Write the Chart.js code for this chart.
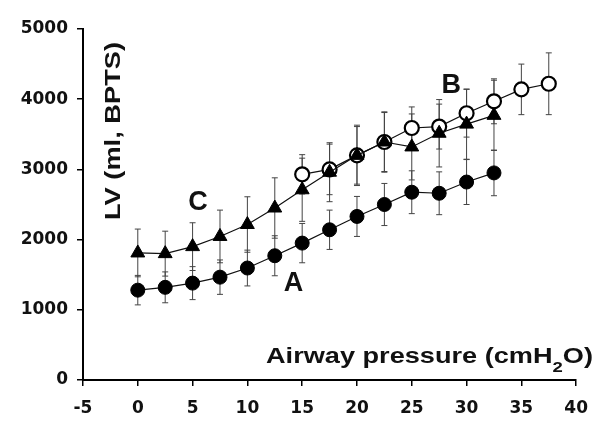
<!DOCTYPE html>
<html>
<head>
<meta charset="utf-8">
<script src="https://cdn.jsdelivr.net/npm/chart.js@4"></script>
<style>
    html, body { margin: 0; padding: 0; background: #fff; }
    #wrap { width: 600px; height: 446px; }
</style>
</head>
<body>
<div id="wrap"><canvas id="lvChart"></canvas></div>
<script>
// Airway pressure (cmH2O)
const pressures = [0, 2.5, 5, 7.5, 10, 12.5, 15, 17.5, 20, 22.5, 25, 27.5, 30, 32.5];
const pressuresB = [15, 17.5, 20, 22.5, 25, 27.5, 30, 32.5, 35, 37.5];

// LV (ml, BPTS) means and SD
const seriesA = [1280, 1320, 1380, 1465, 1595, 1770, 1950, 2140, 2330, 2500, 2675, 2660, 2820, 2950];
const errorA = [210, 220, 235, 245, 255, 285, 280, 280, 285, 300, 305, 305, 320, 325];
const seriesC = [1810, 1800, 1900, 2045, 2215, 2450, 2710, 2960, 3200, 3390, 3320, 3515, 3645, 3770];
const errorC = [340, 320, 340, 375, 395, 430, 450, 420, 410, 430, 470, 480, 500, 500];
const seriesB = [2930, 3000, 3200, 3390, 3590, 3610, 3800, 3970, 4140, 4220];
const errorB = [280, 360, 430, 420, 300, 320, 340, 320, 360, 440];

// curve labels placed in data units
const curveLabels = [
    { text: 'A', x: 14.2, y: 1370 },
    { text: 'B', x: 28.6, y: 4190 },
    { text: 'C', x: 5.5, y: 2530 }
];

const xTicks = [-5, 0, 5, 10, 15, 20, 25, 30, 35, 40];
const yTicks = [0, 1000, 2000, 3000, 4000, 5000];

const FONT = '"DejaVu Sans", "Liberation Sans", sans-serif';
const TITLE_FONT = '"Liberation Sans", Arial, sans-serif';

function toPoints(xs, ys, errs) {
    return xs.map((x, i) => ({ x: x, y: ys[i], err: errs[i] }));
}

// error bars drawn under the markers
const errorBarPlugin = {
    id: 'errorBars',
    beforeDatasetsDraw(chart) {
        const { ctx, scales: { x, y } } = chart;
        ctx.save();
        ctx.strokeStyle = '#444';
        ctx.lineWidth = 1;
        chart.data.datasets.forEach(ds => {
            ds.data.forEach(p => {
                const px = x.getPixelForValue(p.x);
                const top = y.getPixelForValue(p.y + p.err);
                const bot = y.getPixelForValue(p.y - p.err);
                ctx.beginPath();
                ctx.moveTo(px, top); ctx.lineTo(px, bot);
                ctx.moveTo(px - 3, top); ctx.lineTo(px + 3, top);
                ctx.moveTo(px - 3, bot); ctx.lineTo(px + 3, bot);
                ctx.stroke();
            });
        });
        ctx.restore();
    }
};

// draw text stretched to a given width
function fillFitted(ctx, parts, x, y, width) {
    let total = 0;
    parts.forEach(p => { ctx.font = p.font; total += ctx.measureText(p.text).width; });
    const sx = width / total;
    ctx.save();
    ctx.translate(x, y);
    ctx.scale(sx, 1);
    let cx = 0;
    parts.forEach(p => {
        ctx.font = p.font;
        ctx.fillText(p.text, cx, p.dy || 0);
        cx += ctx.measureText(p.text).width;
    });
    ctx.restore();
}

// axis titles and curve letters
const textPlugin = {
    id: 'chartText',
    afterDraw(chart) {
        const { ctx, scales: { x, y } } = chart;
        ctx.save();
        ctx.fillStyle = '#111';

        ctx.font = 'bold 27px ' + TITLE_FONT;
        ctx.textAlign = 'center';
        ctx.textBaseline = 'middle';
        curveLabels.forEach(l => {
            ctx.fillText(l.text, x.getPixelForValue(l.x), y.getPixelForValue(l.y));
        });

        ctx.textAlign = 'left';
        ctx.textBaseline = 'alphabetic';

        // y title, rotated, inside the plot
        ctx.save();
        ctx.translate(120, 220);
        ctx.rotate(-Math.PI / 2);
        fillFitted(ctx, [{ text: 'LV (ml, BPTS)', font: 'bold 22px ' + TITLE_FONT }], 0, 0, 178);
        ctx.restore();

        // x title with subscript
        const big = 'bold 22px ' + TITLE_FONT;
        const small = 'bold 15px ' + TITLE_FONT;
        fillFitted(ctx, [
            { text: 'Airway pressure (cmH', font: big },
            { text: '2', font: small, dy: 9 },
            { text: 'O)', font: big }
        ], 266, 363, 327);
        ctx.restore();
    }
};

const ctx = document.getElementById('lvChart').getContext('2d');

const lvChart = new Chart(ctx, {
    type: 'scatter',
    data: {
        datasets: [
            {
                label: 'A',
                data: toPoints(pressures, seriesA, errorA),
                showLine: true,
                borderColor: '#111',
                borderWidth: 1.2,
                pointStyle: 'circle',
                pointRadius: 7,
                pointBackgroundColor: '#000',
                pointBorderColor: '#000',
                pointBorderWidth: 1
            },
            {
                label: 'C',
                data: toPoints(pressures, seriesC, errorC),
                showLine: true,
                borderColor: '#111',
                borderWidth: 1.2,
                pointStyle: 'triangle',
                pointRadius: 8,
                pointBackgroundColor: '#000',
                pointBorderColor: '#000',
                pointBorderWidth: 1
            },
            {
                label: 'B',
                data: toPoints(pressuresB, seriesB, errorB),
                showLine: true,
                borderColor: '#111',
                borderWidth: 1.2,
                pointStyle: 'circle',
                pointRadius: 7,
                pointBackgroundColor: '#fff',
                pointBorderColor: '#000',
                pointBorderWidth: 2.2
            }
        ]
    },
    options: {
        responsive: true,
        maintainAspectRatio: false,
        animation: false,
        layout: { padding: { top: 29, right: 20, left: 0, bottom: 0 } },
        plugins: {
            legend: { display: false },
            tooltip: { enabled: false }
        },
        scales: {
            x: {
                type: 'linear',
                min: -5,
                max: 40,
                afterBuildTicks: scale => { scale.ticks = xTicks.map(v => ({ value: v })); },
                afterFit: scale => { scale.height = 66; },
                grid: { drawOnChartArea: false, drawTicks: true, tickLength: 6, color: '#000', lineWidth: 1.5 },
                border: { color: '#000', width: 2 },
                ticks: {
                    color: '#111', padding: 12,
                    font: { family: FONT, size: 17, weight: 'bold' },
                    callback: v => String(v)
                }
            },
            y: {
                type: 'linear',
                min: 0,
                max: 5000,
                afterBuildTicks: scale => { scale.ticks = yTicks.map(v => ({ value: v })); },
                afterFit: scale => { scale.width = 83; },
                grid: { drawOnChartArea: false, drawTicks: true, tickLength: 6, color: '#000', lineWidth: 1.5 },
                border: { color: '#000', width: 2 },
                ticks: {
                    color: '#111', padding: 9,
                    font: { family: FONT, size: 17, weight: 'bold' },
                    callback: v => String(v)
                }
            }
        }
    },
    plugins: [errorBarPlugin, textPlugin]
});
</script>
</body>
</html>
